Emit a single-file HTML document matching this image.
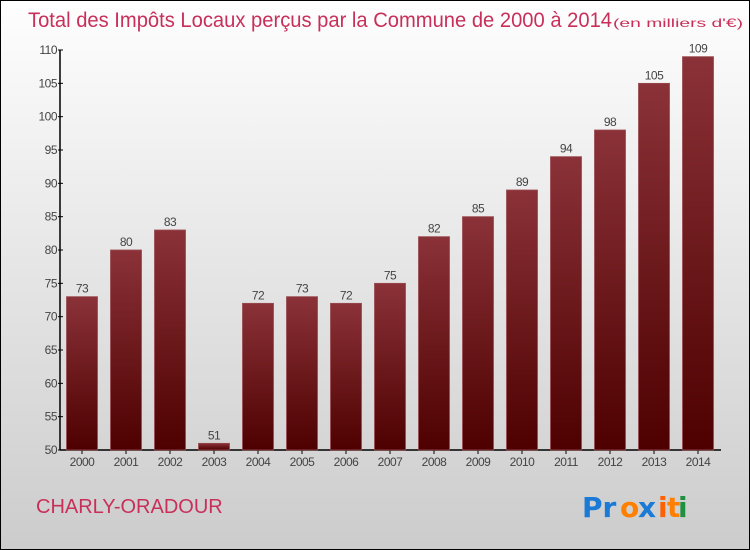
<!DOCTYPE html>
<html><head><meta charset="utf-8">
<style>
html,body{margin:0;padding:0;}
body{width:750px;height:550px;overflow:hidden;font-family:"Liberation Sans",sans-serif;}
#frame{position:absolute;left:0;top:0;width:748px;height:548px;border:1px solid #000;background:linear-gradient(#fefefe,#cccccc);}
</style></head><body>
<div id="frame"></div>
<svg id="chart" width="750" height="550" style="position:absolute;left:0;top:0">
<defs>
<linearGradient id="bg" x1="0" y1="0" x2="0" y2="1">
<stop offset="0" stop-color="#8a3238"/><stop offset="1" stop-color="#4e0000"/>
</linearGradient>
</defs>
<text y="27" fill="#c8305a" font-family="Liberation Sans, sans-serif"><tspan x="28" font-size="21" textLength="584" lengthAdjust="spacingAndGlyphs">Total des Impôts Locaux perçus par la Commune de 2000 à 2014</tspan><tspan x="613" font-size="12" textLength="130" lengthAdjust="spacingAndGlyphs">(en milliers d'€)</tspan></text>
<text x="36" y="513" font-size="20" fill="#c8305a">CHARLY-ORADOUR</text>
<g font-size="28" font-weight="bold" font-family="DejaVu Sans, sans-serif">
<text x="582" y="517" fill="#1a7ad6">Pr</text><text x="620" y="517" fill="#ff8000">o</text><text x="638" y="517" fill="#1a7ad6">x</text><text x="658" y="517" fill="#ff6000">i</text><text x="667" y="517" fill="#ff8000">t</text><text x="678" y="517" fill="#209040">i</text>
</g>
<g id="axes"></g>
<g id="bars"></g>
</svg>
<script>
const categories=["2000","2001","2002","2003","2004","2005","2006","2007","2008","2009","2010","2011","2012","2013","2014"];
const values=[73,80,83,51,72,73,72,75,82,85,89,94,98,105,109];
const yTicks=[50,55,60,65,70,75,80,85,90,95,100,105,110];
const NS="http://www.w3.org/2000/svg";
const x0=60,x1=721,yTop=50,yBot=450,yMin=50,yMax=110;
function yScale(v){return yBot-(v-yMin)/(yMax-yMin)*(yBot-yTop);}
const step=44;
function xCenter(i){return 82+i*step;}
function mk(tag,attrs,parent){const e=document.createElementNS(NS,tag);for(const k in attrs)e.setAttribute(k,attrs[k]);parent.appendChild(e);return e;}
const axes=document.getElementById('axes'),bars=document.getElementById('bars');
let yl=mk('line',{x1:x0,y1:yTop,x2:x0,y2:yBot,stroke:'#000','stroke-width':1.5},axes);


let xl=mk('line',{x1:x0,y1:yBot,x2:x1,y2:yBot,stroke:'#000','stroke-width':1.5},axes);


yTicks.forEach(t=>{
 const y=yScale(t);
 mk('line',{x1:x0-2,y1:y,x2:x0+3,y2:y,stroke:'#000'},axes);
 const tx=mk('text',{x:x0-3,y:y+4,'text-anchor':'end','font-size':12,fill:'#444','letter-spacing':'-0.5'},axes);
 tx.textContent=t;
 
 
});
categories.forEach((c,i)=>{
 const cx=xCenter(i),v=values[i];
 mk('line',{x1:cx,y1:yBot,x2:cx,y2:yBot+4,stroke:'#000'},axes);
 const lb=mk('text',{x:cx,y:yBot+16,'text-anchor':'middle','font-size':12,fill:'#444','letter-spacing':'-0.5'},axes);
 lb.textContent=c;
 
 
 const r=mk('rect',{x:cx-15.5,y:yScale(v),width:31,height:yBot-yScale(v),fill:'url(#bg)',stroke:'#9a4a50','stroke-width':0.8},bars);
 
 
 const vl=mk('text',{x:cx,y:yScale(v)-4,'text-anchor':'middle','font-size':12,fill:'#444','letter-spacing':'-0.5'},bars);
 vl.textContent=v;
 
 
});
</script>
</body></html>
